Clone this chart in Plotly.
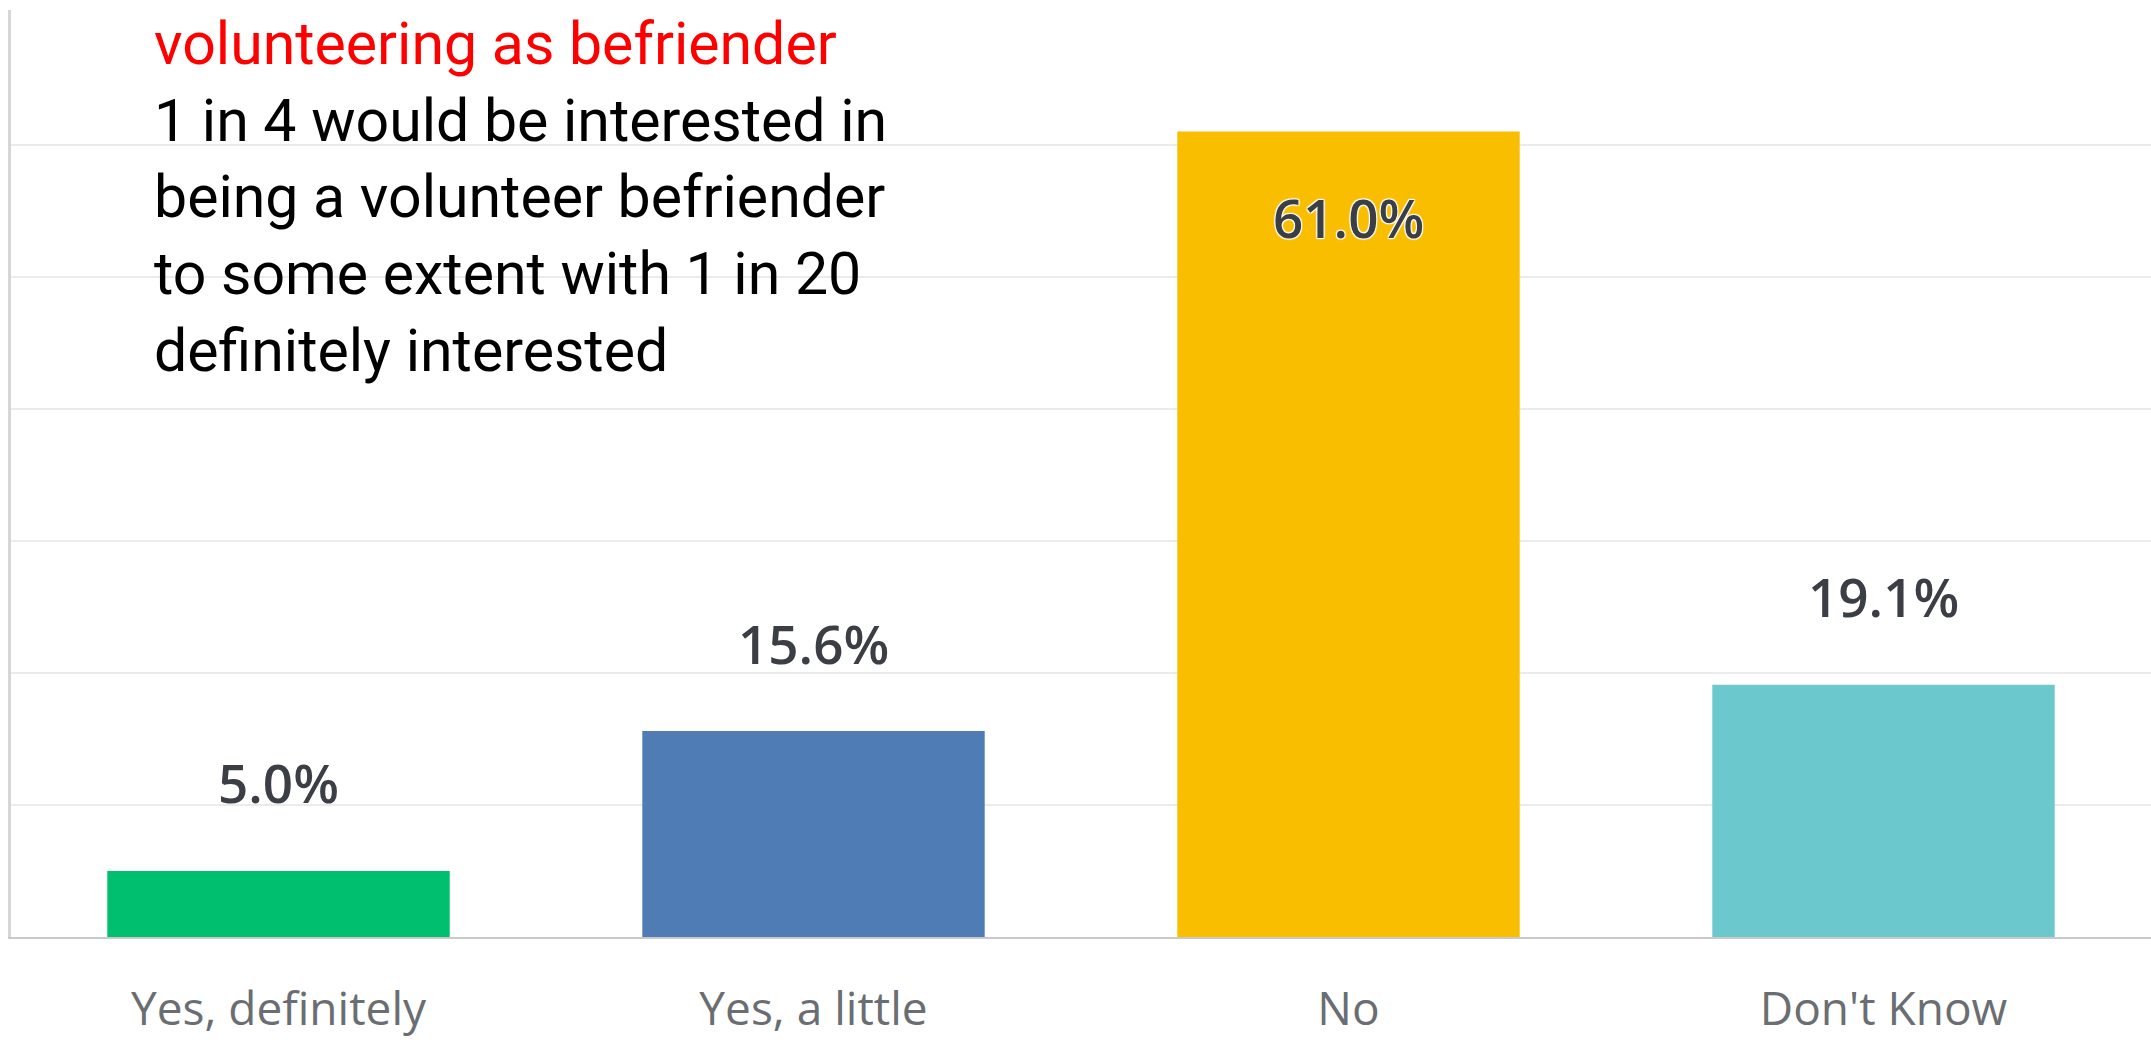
import plotly.graph_objects as go

categories = ["Yes, definitely", "Yes, a little", "No", "Don't Know"]
values = [5.0, 15.6, 61.0, 19.1]
value_labels = ["5.0%", "15.6%", "61.0%", "19.1%"]
bar_colors = ["#00bf6f", "#507cb6", "#f9be00", "#6bc8cd"]
label_inside = [False, False, True, False]
grid_ticks = [10, 20, 30, 40, 50, 60]

title_red = "volunteering as befriender"
note_lines = [
    "1 in 4 would be interested in",
    "being a volunteer befriender",
    "to some extent with 1 in 20",
    "definitely interested",
]

W, H = 2151, 1044
ML, MR, MT, MB = 11, 0, 10, 107

fig = go.Figure()
fig.add_trace(go.Bar(
    x=categories,
    y=values,
    marker=dict(color=bar_colors, line=dict(width=0)),
    hoverinfo="skip",
    showlegend=False,
))

for cat, val, lab, inside in zip(categories, values, value_labels, label_inside):
    fig.add_annotation(
        x=cat, y=val, text=lab, showarrow=False,
        xanchor="center", yanchor="middle",
        yshift=-86 if inside else 88,
        font=dict(family="Open Sans", size=53, color="#3b3f45", weight=600,
                  shadow=("1px 1px 1px #fff, -1px -1px 1px #fff, 1px -1px 1px #fff, -1px 1px 1px #fff"
                          if inside else "none")),
    )

plot_w = W - ML - MR
plot_h = H - MT - MB
text_html = ("<span style='color:#ff0000'>" + title_red + "</span><br>" +
             "<br>".join(note_lines))
fig.add_annotation(
    xref="paper", yref="paper",
    x=(152 - ML) / plot_w, y=1 + (MT - 7) / plot_h,
    xanchor="left", yanchor="top", align="left",
    text=text_html, showarrow=False,
    font=dict(family="Roboto", size=59, color="#000000"),
)

fig.update_layout(
    width=W, height=H, autosize=False,
    margin=dict(l=ML, r=MR, t=MT, b=MB, pad=0),
    paper_bgcolor="#ffffff", plot_bgcolor="#ffffff",
    bargap=0.36,
    xaxis=dict(
        showgrid=False, zeroline=False, automargin=False,
        showline=True, linecolor="#c9c9c9", linewidth=2,
        ticks="", ticklabelstandoff=31,
        tickfont=dict(family="Open Sans", size=46, color="#6a6e72"),
        fixedrange=True,
    ),
    yaxis=dict(
        range=[0, 70.2],
        tickvals=grid_ticks,
        showticklabels=False, automargin=False,
        showgrid=True, gridcolor="#ebebeb", gridwidth=2,
        zeroline=False,
        showline=True, linecolor="#d6d6d6", linewidth=3,
        ticks="",
        fixedrange=True,
    ),
)

fig.write_html("out.html")
